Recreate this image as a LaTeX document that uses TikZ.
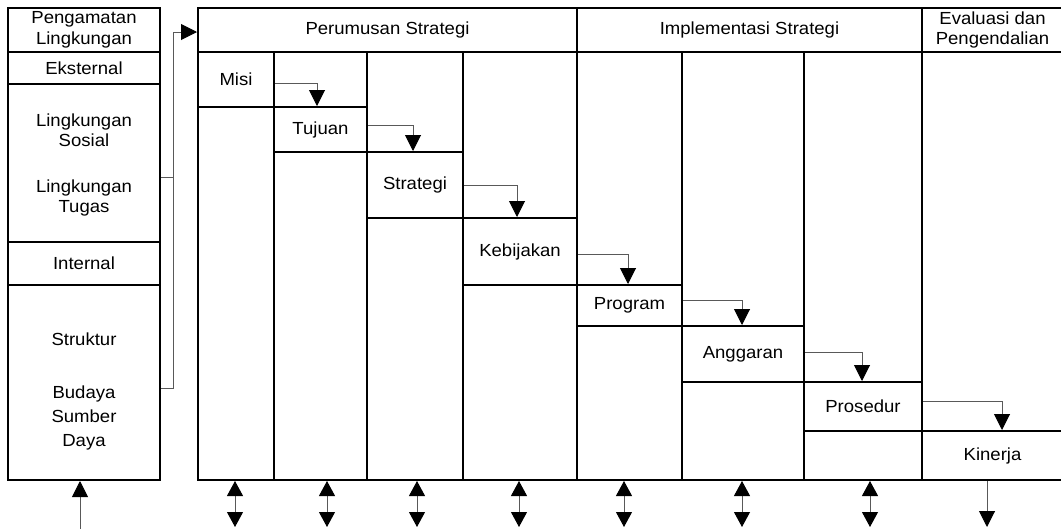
\documentclass[tikz,border=0pt]{standalone}
\usepackage{fontspec}
\setmainfont{Liberation Sans}[FakeStretch=1.06]
\usetikzlibrary{arrows.meta}
\begin{document}
\begin{tikzpicture}[x=1pt,y=-1pt,
  font=\fontsize{17.5}{20.5}\selectfont,
  box/.style={draw=black, line width=2pt, inner sep=0pt, align=center},
  lbl/.style={inner sep=0pt, align=center},
  conn/.style={draw=black!65, line width=1pt},
  tipend/.style={-{Triangle[width=16pt,length=16pt,color=black]}},
  tipboth/.style={{Triangle[width=16pt,length=15pt,color=black]}-{Triangle[width=16pt,length=15pt,color=black]}},
]
\useasboundingbox (0,0) rectangle (1061,528);
\clip (0,0) rectangle (1061,528);

% ---------- left box ----------
\node[box, minimum width=152pt, minimum height=44pt]  (lhead) at (84,30)    {Pengamatan\\Lingkungan};
\node[box, minimum width=152pt, minimum height=32pt]  (leks)  at (84,68)    {Eksternal};
\node[box, minimum width=152pt, minimum height=158pt] (lling) at (84,163)   {};
\node[box, minimum width=152pt, minimum height=43pt]  (lint)  at (84,263.5) {Internal};
\node[box, minimum width=152pt, minimum height=195pt] (lbody) at (84,382.5) {};
\node[lbl] (sosial)   at (84,130) {Lingkungan\\Sosial};
\node[lbl] (tugas)    at (84,198) {Lingkungan\\Tugas};
\node[lbl] (struktur) at (84,339) {Struktur};
\node[lbl] (budaya)   at (84,394) {Budaya};
\node[lbl] (sumber)   at (84,416) {Sumber};
\node[lbl] (daya)     at (84,442) {Daya};

% ---------- header row ----------
\node[box, minimum width=379pt, minimum height=44pt] (perumusan)    at (387.5,30) {Perumusan Strategi};
\node[box, minimum width=345pt, minimum height=44pt] (implementasi) at (749.5,30) {Implementasi Strategi};
\node[box, minimum width=141pt, minimum height=44pt] (evaluasi)     at (992.5,30) {Evaluasi dan\\Pengendalian};

% ---------- columns ----------
\node[box, minimum width=76pt,  minimum height=428pt] (col1) at (236,266)   {};
\node[box, minimum width=93pt,  minimum height=428pt] (col2) at (320.5,266) {};
\node[box, minimum width=96pt,  minimum height=428pt] (col3) at (415,266)   {};
\node[box, minimum width=114pt, minimum height=428pt] (col4) at (520,266)   {};
\node[box, minimum width=105pt, minimum height=428pt] (col5) at (629.5,266) {};
\node[box, minimum width=122pt, minimum height=428pt] (col6) at (743,266)   {};
\node[box, minimum width=118pt, minimum height=428pt] (col7) at (863,266)   {};
\node[box, minimum width=141pt, minimum height=428pt] (col8) at (992.5,266) {};

% ---------- staircase cells ----------
\node[box, minimum width=76pt,  minimum height=55pt] (misi)      at (236,79.5)   {Misi};
\node[box, minimum width=93pt,  minimum height=45pt] (tujuan)    at (320.5,129.5){Tujuan};
\node[box, minimum width=96pt,  minimum height=66pt] (strategi)  at (415,185)    {Strategi};
\node[box, minimum width=114pt, minimum height=67pt] (kebijakan) at (520,251.5)  {Kebijakan};
\node[box, minimum width=105pt, minimum height=41pt] (program)   at (629.5,305.5){Program};
\node[box, minimum width=122pt, minimum height=56pt] (anggaran)  at (743,354)    {Anggaran};
\node[box, minimum width=118pt, minimum height=49pt] (prosedur)  at (863,406.5)  {Prosedur};
\node[box, minimum width=141pt, minimum height=49pt] (kinerja)   at (992.5,455.5){Kinerja};

% ---------- staircase connectors ----------
\draw[conn, tipend] (misi.east |- 0,83)       -| (tujuan.north -| 317,0);
\draw[conn, tipend] (tujuan.east |- 0,125)    -| (strategi.north -| 413,0);
\draw[conn, tipend] (strategi.east |- 0,185)  -| (kebijakan.north -| 517,0);
\draw[conn, tipend] (kebijakan.east |- 0,254) -| (program.north -| 628,0);
\draw[conn, tipend] (program.east |- 0,300)   -| (anggaran.north -| 742,0);
\draw[conn, tipend] (anggaran.east |- 0,352)  -| (prosedur.north -| 862,0);
\draw[conn, tipend] (prosedur.east |- 0,401)  -| (kinerja.north -| 1002,0);

% ---------- left box to main box ----------
\coordinate (busTop) at (173,32);
\coordinate (busMid) at (173,177);
\coordinate (busBot) at (173,388);
\draw[conn] (lling.east |- busMid) -- (busMid);
\draw[conn, tipend] (lbody.east |- busBot) -- (busBot) -- (busTop) -- (perumusan.west |- busTop);

% ---------- bottom arrows ----------
\coordinate (lin) at (80,529);
\draw[conn, tipend] (lin) -- (lin |- lbody.south);
\coordinate (e1) at (235,527);
\coordinate (e2) at (327,527);
\coordinate (e3) at (417,527);
\coordinate (e4) at (519,527);
\coordinate (e5) at (624,527);
\coordinate (e6) at (742,527);
\coordinate (e7) at (870,527);
\coordinate (e8) at (987,527);
\draw[conn, tipboth] (e1 |- col1.south) -- (e1);
\draw[conn, tipboth] (e2 |- col2.south) -- (e2);
\draw[conn, tipboth] (e3 |- col3.south) -- (e3);
\draw[conn, tipboth] (e4 |- col4.south) -- (e4);
\draw[conn, tipboth] (e5 |- col5.south) -- (e5);
\draw[conn, tipboth] (e6 |- col6.south) -- (e6);
\draw[conn, tipboth] (e7 |- col7.south) -- (e7);
\draw[conn, tipend]  (e8 |- kinerja.south) -- (e8);
\end{tikzpicture}
\end{document}
